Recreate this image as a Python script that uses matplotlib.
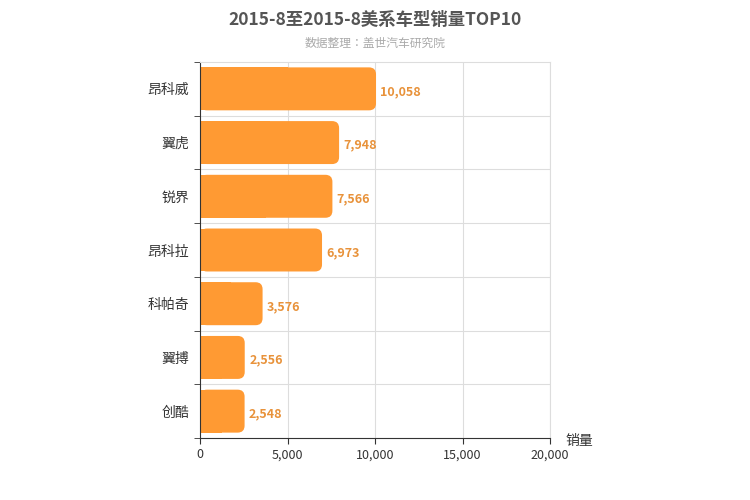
import matplotlib
matplotlib.use("Agg")
import matplotlib.pyplot as plt
from matplotlib import font_manager
from matplotlib.patches import FancyBboxPatch

names = {f.name for f in font_manager.fontManager.ttflist}
cjk = [n for n in ["Noto Sans CJK SC", "Noto Sans CJK JP", "Noto Sans CJK TC",
                   "Noto Sans CJK KR", "Noto Sans SC"] if n in names]
if not cjk:
    cjk = sorted(n for n in names if "CJK" in n)
plt.rcParams["font.family"] = cjk + ["DejaVu Sans"]

models = ["昂科威", "翼虎", "锐界", "昂科拉", "科帕奇", "翼搏", "创酷"]
sales = [10058, 7948, 7566, 6973, 3576, 2556, 2548]
xticks = [0, 5000, 10000, 15000, 20000]

fig = plt.figure(figsize=(7.5, 5), dpi=100)
ax = fig.add_axes([200 / 750, 62 / 500, 350 / 750, 376 / 500])

n = len(models)
ax.set_xlim(0, 20000)
ax.set_ylim(-0.5, n - 0.5)
ax.invert_yaxis()

h = 0.8
color = "#ff9a33"
xpp = 20000 / 350
ypp = n / 376
for i, v in enumerate(sales):
    ax.barh(i, v / 2, height=h, color=color, zorder=2)
    ax.add_patch(FancyBboxPatch((0, i - h / 2), v, h,
                                boxstyle=f"round,pad=0,rounding_size={7 * xpp}",
                                mutation_aspect=ypp / xpp,
                                fc=color, ec="none", zorder=2))
    ax.text(v + 250, i + 0.05, f"{v:,}", va="center", ha="left",
            color="#e8923a", fontsize=9, fontweight="bold")

ax.set_yticks(range(n))
ax.set_yticklabels(models, fontsize=10, color="#333333")
ax.set_yticks([i + 0.5 for i in range(-1, n)], minor=True)
ax.tick_params(axis="y", which="major", length=0, pad=8)
ax.tick_params(axis="y", which="minor", length=4, color="#333333")
ax.set_xticks(xticks)
ax.set_xticklabels([f"{t:,}" for t in xticks], fontsize=9, color="#333333")
ax.tick_params(axis="x", length=4, color="#333333")

for t in xticks[1:]:
    ax.axvline(t, color="#dddddd", lw=0.8, zorder=0)
for i in range(n - 1):
    ax.axhline(i + 0.5, color="#dddddd", lw=0.8, zorder=0)

for s in ["top", "right"]:
    ax.spines[s].set_color("#dddddd")
for s in ["left", "bottom"]:
    ax.spines[s].set_color("#333333")

fig.text(565 / 750, 1 - 441 / 500, "销量", fontsize=10, color="#333333", va="center")
fig.text(0.5, 1 - 20 / 500, "2015-8至2015-8美系车型销量TOP10", ha="center",
         va="center", fontsize=12.5, fontweight="bold", color="#555555")
fig.text(0.5, 1 - 43 / 500, "数据整理：盖世汽车研究院", ha="center", va="center",
         fontsize=8.5, color="#aaaaaa")

fig.savefig("out.png", dpi=100)
